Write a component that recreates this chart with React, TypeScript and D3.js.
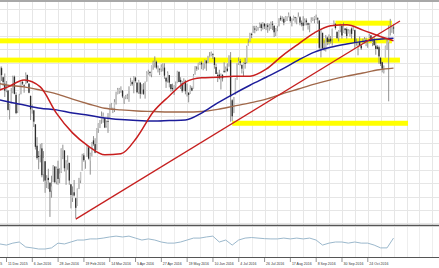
import React from "react";
import * as d3 from "d3";

const W = 439;
const H = 268;

// Daily bars, first bar index = -9 (30 Nov 2015); index 0 = 11 Dec 2015
const FIRST_INDEX = -9;
const OPEN = [
  2090, 2082, 2101, 2080, 2051, 2090, 2073, 2061, 2048,
  2048, 2013, 2025, 2046, 2074, 2040, 2010, 2023, 2042, 2064, 2058, 2061, 2077, 2061,
  2038, 2014, 2011, 1985, 1945, 1926, 1928, 1940, 1892, 1916, 1878, 1885, 1876, 1861, 1877, 1906, 1878, 1902, 1885, 1895,
  1936, 1936, 1907, 1911, 1913, 1873, 1848, 1858, 1847, 1833, 1866, 1880, 1898, 1927, 1916, 1924, 1942, 1917, 1932, 1955, 1948,
  1937, 1976, 1985, 1994, 1997, 1997, 1981, 1991, 1995, 2019, 2015, 2015, 2026, 2042, 2047, 2048, 2048, 2032, 2036, 2037, 2035, 2059, 2064,
  2057, 2072, 2063, 2045, 2063, 2045, 2050, 2043, 2065, 2082, 2083, 2078, 2096, 2100, 2102, 2091, 2089, 2089, 2092, 2091, 2072,
  2068, 2077, 2060, 2053, 2047, 2057, 2062, 2083, 2068, 2062, 2047, 2065, 2045, 2044, 2042, 2053, 2052, 2078, 2091, 2091, 2099, 2100,
  2093, 2098, 2104, 2101, 2110, 2113, 2116, 2110, 2092, 2077, 2078, 2068, 2077, 2085, 2085, 2089, 2093, 2105, 2030, 2006, 2040, 2073,
  2099, 2103, 2096, 2084, 2100, 2101, 2132, 2140, 2154, 2156, 2164, 2162, 2164, 2166, 2172, 2167, 2173, 2168, 2170, 2166, 2168,
  2173, 2169, 2156, 2163, 2169, 2184, 2181, 2182, 2178, 2183, 2186, 2186, 2178, 2181, 2185, 2182, 2187, 2185, 2174, 2175, 2170, 2179, 2174,
  2171, 2177, 2180, 2182, 2186, 2183, 2179, 2121, 2156, 2128, 2125, 2147, 2144, 2145, 2145, 2170, 2173, 2158, 2146, 2162, 2169, 2156,
  2164, 2163, 2155, 2157, 2164, 2160, 2161, 2137, 2130, 2139, 2132, 2138, 2140, 2142, 2139, 2149, 2151, 2137, 2144, 2132, 2130,
  2129, 2109, 2101, 2083, 2110, 2132, 2138, 2167, 2160, 2166,
];
const HIGH = [
  2094, 2103, 2104, 2085, 2093, 2093, 2074, 2080, 2066,
  2049, 2023, 2053, 2076, 2076, 2045, 2023, 2042, 2065, 2068, 2060, 2082, 2078, 2062,
  2039, 2022, 2012, 1985, 1961, 1935, 1948, 1950, 1935, 1916, 1890, 1902, 1876, 1889, 1909, 1907, 1906, 1917, 1903, 1940,
  1947, 1937, 1918, 1927, 1913, 1873, 1869, 1881, 1848, 1865, 1885, 1896, 1930, 1931, 1918, 1946, 1942, 1932, 1952, 1963, 1959,
  1978, 1987, 1993, 2009, 2007, 1997, 1992, 2006, 2022, 2025, 2016, 2032, 2046, 2053, 2053, 2056, 2049, 2037, 2040, 2042, 2056, 2072, 2067,
  2075, 2074, 2063, 2068, 2063, 2060, 2062, 2065, 2084, 2087, 2084, 2095, 2104, 2112, 2104, 2095, 2089, 2097, 2099, 2099, 2073,
  2084, 2077, 2060, 2061, 2058, 2065, 2085, 2084, 2073, 2066, 2071, 2068, 2061, 2045, 2058, 2056, 2079, 2094, 2094, 2100, 2102, 2103,
  2100, 2106, 2105, 2113, 2120, 2121, 2118, 2110, 2098, 2082, 2087, 2080, 2079, 2101, 2093, 2099, 2114, 2120, 2032, 2036, 2071, 2099,
  2110, 2107, 2097, 2101, 2109, 2132, 2144, 2156, 2156, 2169, 2169, 2169, 2167, 2175, 2175, 2176, 2174, 2173, 2174, 2173, 2177,
  2178, 2170, 2165, 2169, 2183, 2188, 2187, 2185, 2187, 2187, 2194, 2187, 2183, 2188, 2186, 2185, 2194, 2187, 2179, 2187, 2183, 2183, 2175,
  2174, 2185, 2185, 2187, 2190, 2185, 2179, 2163, 2156, 2142, 2152, 2149, 2153, 2150, 2164, 2179, 2173, 2158, 2161, 2173, 2172, 2175,
  2165, 2166, 2163, 2162, 2166, 2169, 2162, 2145, 2138, 2149, 2135, 2145, 2148, 2147, 2143, 2154, 2152, 2146, 2148, 2140, 2133,
  2132, 2111, 2102, 2095, 2132, 2146, 2170, 2182, 2170, 2172,
];
const LOW = [
  2078, 2080, 2077, 2042, 2050, 2066, 2056, 2036, 2045,
  2011, 1994, 2024, 2043, 2041, 2004, 2006, 2021, 2041, 2058, 2044, 2060, 2062, 2043,
  1993, 2005, 1980, 1938, 1919, 1901, 1914, 1886, 1878, 1857, 1866, 1864, 1812, 1848, 1877, 1875, 1873, 1872, 1875, 1894,
  1920, 1897, 1872, 1900, 1872, 1828, 1840, 1850, 1810, 1833, 1864, 1875, 1898, 1915, 1902, 1924, 1919, 1891, 1925, 1945, 1931,
  1937, 1969, 1978, 1986, 1988, 1978, 1979, 1969, 1995, 2012, 2006, 2008, 2022, 2041, 2042, 2044, 2034, 2023, 2032, 2032, 2027, 2057, 2057,
  2043, 2063, 2043, 2042, 2033, 2041, 2040, 2033, 2065, 2078, 2075, 2073, 2087, 2091, 2088, 2082, 2077, 2083, 2084, 2070, 2053,
  2063, 2054, 2046, 2047, 2040, 2051, 2062, 2064, 2051, 2044, 2047, 2041, 2037, 2026, 2042, 2047, 2052, 2078, 2085, 2087, 2096, 2088,
  2086, 2089, 2085, 2100, 2110, 2112, 2107, 2089, 2079, 2064, 2069, 2050, 2065, 2081, 2082, 2083, 2093, 1990, 1991, 2006, 2040, 2068,
  2096, 2095, 2080, 2074, 2089, 2099, 2132, 2139, 2146, 2156, 2155, 2159, 2160, 2165, 2159, 2162, 2163, 2161, 2156, 2160, 2163,
  2161, 2148, 2150, 2159, 2168, 2178, 2177, 2170, 2177, 2178, 2185, 2175, 2168, 2179, 2175, 2172, 2185, 2170, 2168, 2160, 2170, 2170, 2162,
  2157, 2175, 2178, 2174, 2180, 2173, 2125, 2110, 2124, 2122, 2121, 2133, 2134, 2136, 2132, 2169, 2162, 2145, 2140, 2157, 2145, 2156,
  2154, 2145, 2155, 2149, 2145, 2160, 2128, 2132, 2114, 2132, 2124, 2136, 2136, 2131, 2128, 2146, 2139, 2131, 2132, 2115, 2125,
  2098, 2094, 2082, 2080, 2110, 2124, 2028, 2151, 2156, 2154,
];
const CLOSE = [
  2080, 2102, 2079, 2050, 2091, 2077, 2064, 2048, 2052,
  2012, 2022, 2043, 2073, 2042, 2006, 2021, 2039, 2064, 2061, 2056, 2078, 2063, 2044,
  2013, 2017, 1990, 1943, 1922, 1924, 1939, 1890, 1922, 1880, 1885, 1881, 1859, 1869, 1907, 1877, 1904, 1883, 1893, 1940,
  1939, 1903, 1913, 1915, 1880, 1853, 1852, 1852, 1829, 1865, 1880, 1896, 1927, 1918, 1918, 1946, 1921, 1930, 1952, 1948, 1932,
  1978, 1986, 1993, 2000, 2002, 1979, 1989, 1990, 2022, 2020, 2016, 2027, 2041, 2050, 2052, 2050, 2037, 2036, 2037, 2037, 2055, 2064, 2060,
  2073, 2066, 2045, 2067, 2042, 2048, 2042, 2062, 2082, 2083, 2081, 2094, 2101, 2102, 2091, 2092, 2088, 2092, 2095, 2076, 2065,
  2081, 2063, 2051, 2051, 2057, 2059, 2084, 2064, 2064, 2047, 2067, 2047, 2048, 2040, 2052, 2048, 2076, 2091, 2090, 2099, 2099, 2097,
  2099, 2105, 2099, 2109, 2112, 2119, 2115, 2096, 2079, 2075, 2071, 2078, 2071, 2083, 2089, 2085, 2113, 2037, 2000, 2036, 2071, 2099,
  2103, 2100, 2089, 2100, 2098, 2130, 2137, 2152, 2152, 2164, 2162, 2167, 2164, 2173, 2165, 2175, 2168, 2169, 2167, 2170, 2174,
  2171, 2157, 2164, 2164, 2183, 2181, 2182, 2175, 2186, 2184, 2190, 2178, 2182, 2187, 2184, 2183, 2187, 2175, 2172, 2169, 2180, 2176, 2171,
  2171, 2180, 2182, 2186, 2186, 2181, 2128, 2159, 2127, 2126, 2147, 2139, 2139, 2140, 2163, 2177, 2165, 2146, 2160, 2171, 2151, 2168,
  2161, 2150, 2160, 2161, 2154, 2164, 2137, 2139, 2133, 2133, 2127, 2140, 2144, 2141, 2141, 2151, 2143, 2139, 2133, 2126, 2126,
  2112, 2098, 2089, 2085, 2131, 2140, 2163, 2167, 2164, 2164,
];

// Time axis labels: one every 16 bars, first at index -16
const TICK_LABELS = [
  "19 Nov 2015", "11 Dec 2015", "6 Jan 2016", "28 Jan 2016", "19 Feb 2016", "14 Mar 2016",
  "5 Apr 2016", "27 Apr 2016", "19 May 2016", "10 Jun 2016", "4 Jul 2016", "26 Jul 2016",
  "17 Aug 2016", "8 Sep 2016", "30 Sep 2016", "24 Oct 2016",
];
const TICK_FIRST = -16;
const TICK_EVERY = 16;

// Moving averages, read at these bar indices
const MA_INDEX = [-10, 0, 10, 20, 30, 40, 50, 60, 70, 80, 90, 100, 110, 120, 130, 140, 150, 160, 170, 180, 190, 200, 210, 220, 230, 239];
const MA_RED = [2044, 2055, 2068, 2055, 2006, 1969, 1944, 1928, 1930, 1961, 2008, 2038, 2064, 2072, 2073, 2075, 2075, 2088, 2113, 2135, 2156, 2169, 2171, 2161, 2150, 2141];
const MA_BLUE = [2034, 2027, 2021, 2015, 2012, 2006, 2002, 1997, 1994, 1992, 1991, 1992, 1993, 2006, 2025, 2042, 2058, 2073, 2088, 2105, 2120, 2129, 2135, 2140, 2144, 2146];
const MA_BROWN = [2064, 2058, 2055, 2049, 2042, 2032, 2023, 2015, 2012, 2010, 2009, 2008, 2008, 2009, 2013, 2019, 2025, 2032, 2042, 2051, 2060, 2068, 2075, 2081, 2087, 2090];

// Yellow levels (price, from bar, to bar)
const BAND_PRICE = [2174, 2141, 2105, 1987];
const BAND_FROM = [203, -20, -20, 139];
const BAND_TO = [238, 238, 243, 248];

// Trend line
const TREND_INDEX = [42, 243];
const TREND_PRICE = [1808, 2178];

// Oscillator in the lower panel, one reading every 4 bars from index -9
const OSC_FIRST = -9;
const OSC_EVERY = 4;
const OSC = [
  54, 43, 39, 46, 50, 32, 29, 25, 25, 29, 46, 43, 50, 57, 57, 61, 61, 64, 68, 71, 68, 71,
  64, 57, 61, 57, 50, 46, 46, 50, 57, 64, 64, 68, 71, 50, 57, 39, 57, 64, 66, 64, 62,
  61, 61, 64, 61, 64, 61, 64, 57, 39, 46, 50, 50, 46, 50, 46, 46, 39, 29, 29, 64,
];

const MAIN_TOP = 2;
const MAIN_BOTTOM = 225;
const SUB_TOP = 227;
const SUB_BOTTOM = 257;

export default function App() {
  const x = d3.scaleLinear().domain([0, 224]).range([8, 8 + 224 * 1.613]);
  const y = d3.scaleLinear().domain([1810, 2193]).range([218, 13]);
  const yo = d3.scaleLinear().domain([0, 100]).range([SUB_BOTTOM - 1, SUB_TOP + 1]);

  const bars = CLOSE.map((c, k) => ({
    i: FIRST_INDEX + k,
    o: OPEN[k],
    h: Math.max(HIGH[k], OPEN[k], c),
    l: Math.min(LOW[k], OPEN[k], c),
    c,
  }));

  const maLine = (vals: number[]) =>
    d3
      .line<number>()
      .x((_, k) => x(MA_INDEX[k]))
      .y((v) => y(v))
      .curve(d3.curveMonotoneX)(vals) as string;

  const oscLine = d3
    .line<number>()
    .x((_, k) => x(OSC_FIRST + k * OSC_EVERY))
    .y((v) => yo(v))(OSC) as string;

  const vGrid: number[] = [];
  for (let i = -24; i <= 320; i += 8) vGrid.push(x(i) - 1.5);
  const hGrid = d3.range(1800, 2226, 25).map((p) => y(p));

  const ticks = TICK_LABELS.map((t, k) => ({ t, i: TICK_FIRST + k * TICK_EVERY }));

  return (
    <div style={{ position: "absolute", left: 0, top: 0, width: W, height: H, background: "#fff" }}>
      <svg width={W} height={H} style={{ display: "block" }} fontFamily="'Liberation Sans', Arial, sans-serif">
        <defs>
          <clipPath id="mainClip">
            <rect x={0} y={MAIN_TOP} width={W} height={MAIN_BOTTOM - MAIN_TOP} />
          </clipPath>
          <clipPath id="subClip">
            <rect x={0} y={SUB_TOP} width={W} height={SUB_BOTTOM - SUB_TOP} />
          </clipPath>
        </defs>
        <rect x={0} y={0} width={W} height={H} fill="#fff" />
        <rect x={0} y={0} width={W} height={MAIN_TOP} fill="#a8a8a8" />

        <g clipPath="url(#mainClip)">
          {vGrid.map((gx, k) => (
            <line key={"vg" + k} x1={Math.round(gx) + 0.5} x2={Math.round(gx) + 0.5} y1={MAIN_TOP} y2={MAIN_BOTTOM} stroke="#e6e6e6" strokeWidth={1} />
          ))}
          {hGrid.map((gy, k) => (
            <line key={"hg" + k} x1={0} x2={W} y1={Math.round(gy) + 0.5} y2={Math.round(gy) + 0.5} stroke="#e6e6e6" strokeWidth={1} />
          ))}

          {BAND_PRICE.map((p, k) => (
            <rect key={"band" + k} x={x(BAND_FROM[k])} width={x(BAND_TO[k]) - x(BAND_FROM[k])} y={y(p) - 2.5} height={5} fill="#ffff00" />
          ))}

          {bars.map((b) => {
            const cx = x(b.i);
            const top = y(Math.max(b.o, b.c));
            const bot = y(Math.min(b.o, b.c));
            const bull = b.c >= b.o;
            return (
              <g key={"b" + b.i}>
                <line x1={cx} x2={cx} y1={y(b.h)} y2={y(b.l)} stroke="#858585" strokeWidth={0.9} />
                <rect x={cx - 0.65} width={1.3} y={top} height={Math.max(0.8, bot - top)} fill={bull ? "#c4c4c4" : "#2c2c2c"} />
              </g>
            );
          })}

          <path d={maLine(MA_BROWN)} fill="none" stroke="#a0684a" strokeWidth={1.4} />
          <path d={maLine(MA_BLUE)} fill="none" stroke="#1c1c9a" strokeWidth={1.5} />
          <path d={maLine(MA_RED)} fill="none" stroke="#c81e1e" strokeWidth={1.5} />
          <line
            x1={x(TREND_INDEX[0])}
            y1={y(TREND_PRICE[0])}
            x2={x(TREND_INDEX[1])}
            y2={y(TREND_PRICE[1])}
            stroke="#c62020"
            strokeWidth={1.3}
          />
        </g>

        <line x1={0} x2={W} y1={MAIN_BOTTOM + 0.5} y2={MAIN_BOTTOM + 0.5} stroke="#555" strokeWidth={1.5} />

        <g clipPath="url(#subClip)">
          {vGrid.map((gx, k) => (
            <line key={"svg" + k} x1={Math.round(gx) + 0.5} x2={Math.round(gx) + 0.5} y1={SUB_TOP} y2={SUB_BOTTOM} stroke="#eeeeee" strokeWidth={1} />
          ))}
          <path d={oscLine} fill="none" stroke="#9bb8cc" strokeWidth={1} />
        </g>
        <line x1={0} x2={W} y1={SUB_BOTTOM + 0.5} y2={SUB_BOTTOM + 0.5} stroke="#555" strokeWidth={1} />

        {ticks.map((tk) => (
          <g key={"t" + tk.i}>
            <line x1={x(tk.i) - 1.5} x2={x(tk.i) - 1.5} y1={SUB_BOTTOM + 1} y2={SUB_BOTTOM + 5} stroke="#666" strokeWidth={0.7} />
            <text transform={`translate(${x(tk.i)},264.5) scale(0.8,1)`} fontSize={4.4} fill="#333">
              {tk.t}
            </text>
          </g>
        ))}
      </svg>
    </div>
  );
}
